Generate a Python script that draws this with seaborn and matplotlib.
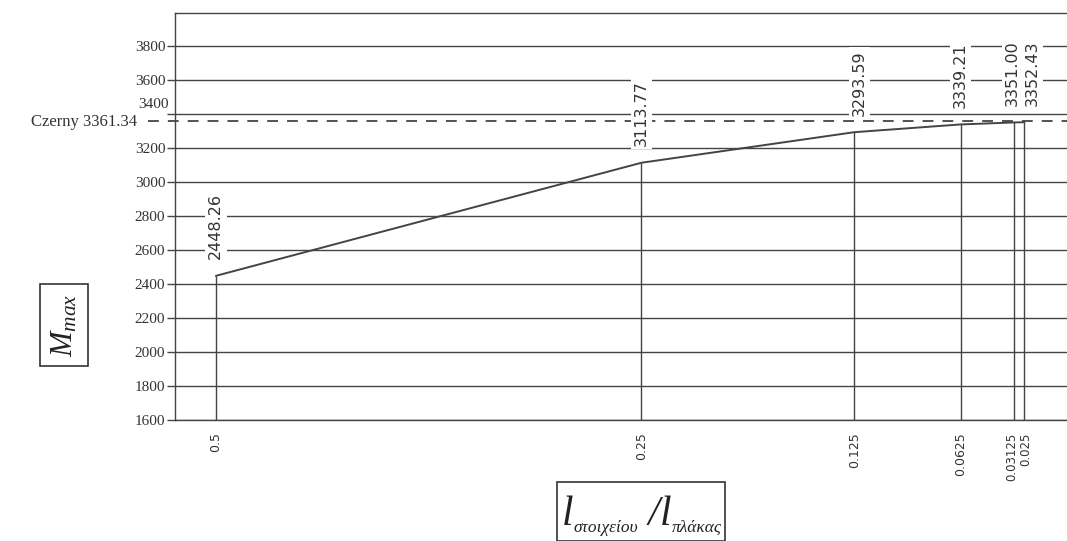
#!/usr/bin/env python
# ------------------------------------------------------
# M_max vs element/plate length ratio, with Czerny reference
# - Creates "out.png"
# ------------------------------------------------------
import matplotlib
matplotlib.use("Agg")
import matplotlib.pyplot as plt
from matplotlib.patches import Rectangle
import seaborn as sns
import pandas as pd

# data
ratio = [0.5, 0.25, 0.125, 0.0625, 0.03125, 0.025]
ratio_labels = ["0.5", "0.25", "0.125", "0.0625", "0.03125", "0.025"]
m_max = [2448.26, 3113.77, 3293.59, 3339.21, 3351.00, 3352.43]
m_labels = ["2448.26", "3113.77", "3293.59", "3339.21", "3351.00", "3352.43"]
czerny = 3361.34
y_ticks = [1600, 1800, 2000, 2200, 2400, 2600, 2800, 3000, 3200, 3400, 3600, 3800]

df = pd.DataFrame({"ratio": ratio, "m_max": m_max})

sns.set_theme(style="white")
plt.rcParams["mathtext.fontset"] = "custom"
plt.rcParams["mathtext.it"] = "Liberation Serif:italic"
plt.rcParams["mathtext.rm"] = "Liberation Serif"

ink = "#444444"
txt = "#333333"

fig = plt.figure(figsize=(10.67, 5.41), dpi=100)
ax = fig.add_axes([175 / 1067, 121 / 541, (1067 - 175) / 1067, (420 - 13) / 541])

# horizontal grid lines across the whole width
for yv in y_ticks:
    ax.axhline(yv, color=ink, lw=1.0, zorder=1)

# vertical drop lines from each point
ax.vlines(ratio, 1600, m_max, color=ink, lw=1.0, zorder=2)

sns.lineplot(data=df, x="ratio", y="m_max", ax=ax, color=ink, lw=1.4,
             sort=False, zorder=3)

# Czerny reference, dashes start a bit left of the frame
ax.plot([-0.03, 1.0], [czerny, czerny], transform=ax.get_yaxis_transform(),
        color=ink, lw=1.3, ls=(0, (6, 5)), zorder=2, clip_on=False)

# value labels above each point
shift = [0, 0, 4, 0, -1, 6]
for xv, yv, lab, dx in zip(ratio, m_max, m_labels, shift):
    ax.annotate(lab, (xv, yv), xytext=(dx, 12), textcoords="offset points",
                rotation=90, ha="center", va="bottom", fontsize=11.5,
                color=txt, family="DejaVu Sans", zorder=5,
                bbox=dict(boxstyle="square,pad=0.2", fc="white", ec="none"))

ax.set_xlim(0.524, 0.0)
ax.set_ylim(1600, 3995)

# x tick labels; the last two sit very close, so they are nudged apart
ax.set_xticks(ratio)
ax.set_xticklabels(ratio_labels[:4] + ["", ""], rotation=90, fontsize=9,
                   color=txt, family="DejaVu Sans")
ax.tick_params(axis="x", length=0, pad=9)
for xv, lab, dx in zip(ratio[4:], ratio_labels[4:], [-1.6, 1.0]):
    ax.annotate(lab, (xv, 0), xycoords=("data", "axes fraction"),
                xytext=(dx, -9), textcoords="offset points", rotation=90,
                ha="center", va="top", fontsize=8.5, color=txt,
                family="DejaVu Sans")

ax.set_yticks(y_ticks)
ax.set_yticklabels([str(v) if v != 3400 else "" for v in y_ticks],
                   fontsize=11, color=txt, family="Liberation Serif")
ax.tick_params(axis="y", length=6, width=1, color=ink, pad=1, left=True)

ax.text(-0.007, 3455, "3400", transform=ax.get_yaxis_transform(), ha="right",
        va="center", fontsize=11, color=txt, family="Liberation Serif")
ax.text(-0.043, czerny - 10, "Czerny 3361.34", transform=ax.get_yaxis_transform(),
        ha="right", va="center", fontsize=12, color=txt,
        family="Liberation Serif")

for side in ["left", "top", "bottom"]:
    ax.spines[side].set_color(ink)
    ax.spines[side].set_linewidth(1.0)
ax.spines["right"].set_visible(False)

ax.set_xlabel("")
ax.set_ylabel("")

# boxed y title
fig.text(64 / 1067, 1 - 325 / 541, r"$M_{max}$", rotation=90, ha="center",
         va="center", fontsize=22, color="#222222",
         bbox=dict(boxstyle="square,pad=0.3", fc="white", ec=txt, lw=1.2))

# boxed x title, built piece by piece so the subscripts can stay small
pieces = [("l", 30, 0), ("στοιχείου", 12.5, -7), (" /", 30, 0),
          ("l", 30, 0), ("πλάκας", 12.5, -7)]
renderer = fig.canvas.get_renderer()
x0 = 562
base = 525
for s, size, dy in pieces:
    t = fig.text(x0 / 1067, 1 - (base - dy) / 541, s, fontsize=size,
                 style="italic", family="Liberation Serif", color="#222222",
                 ha="left", va="baseline")
    x0 += t.get_window_extent(renderer).width
box_l, box_r = 557, x0 + 3
fig.add_artist(Rectangle((box_l / 1067, 0), (box_r - box_l) / 1067,
                         (541 - 482) / 541, transform=fig.transFigure,
                         fill=False, ec=txt, lw=1.2))

fig.savefig("out.png", dpi=100)
plt.close()
